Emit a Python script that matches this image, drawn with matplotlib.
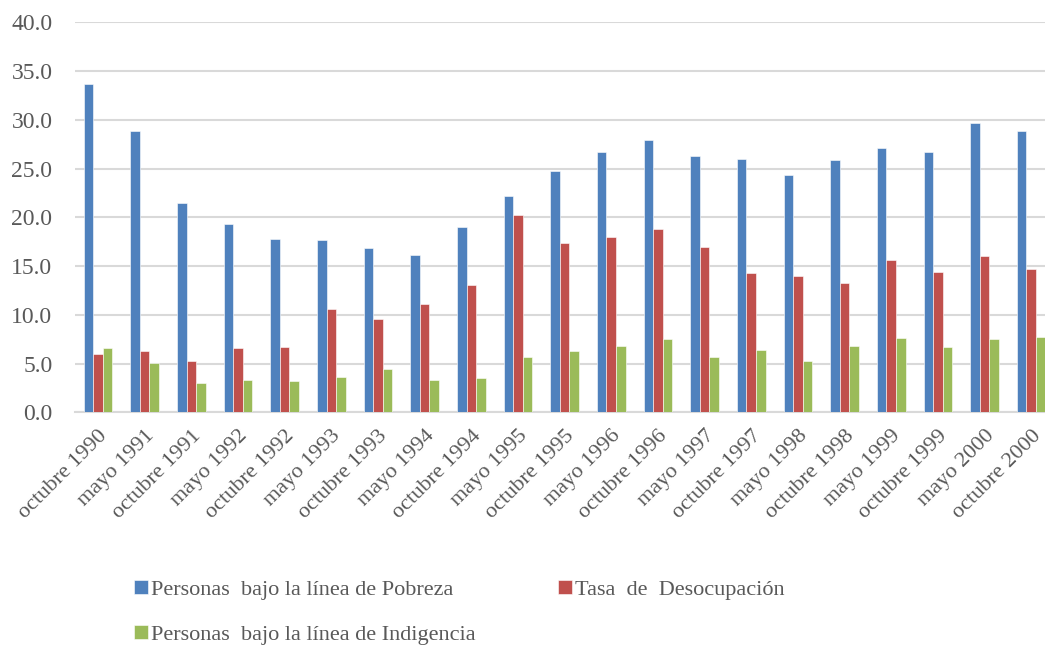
import matplotlib.pyplot as plt
import numpy as np

periodos = ['octubre 1990', 'mayo 1991', 'octubre 1991', 'mayo 1992', 'octubre 1992',
            'mayo 1993', 'octubre 1993', 'mayo 1994', 'octubre 1994', 'mayo 1995',
            'octubre 1995', 'mayo 1996', 'octubre 1996', 'mayo 1997', 'octubre 1997',
            'mayo 1998', 'octubre 1998', 'mayo 1999', 'octubre 1999', 'mayo 2000',
            'octubre 2000']

pobreza = [33.7, 28.9, 21.5, 19.3, 17.8, 17.7, 16.8, 16.1, 19.0, 22.2, 24.8,
           26.7, 27.9, 26.3, 26.0, 24.3, 25.9, 27.1, 26.7, 29.7, 28.9]
desocupacion = [6.0, 6.3, 5.3, 6.6, 6.7, 10.6, 9.6, 11.1, 13.1, 20.2, 17.4,
                18.0, 18.8, 17.0, 14.3, 14.0, 13.3, 15.6, 14.4, 16.0, 14.7]
indigencia = [6.6, 5.1, 3.0, 3.3, 3.2, 3.6, 4.4, 3.3, 3.5, 5.7, 6.3,
              6.8, 7.5, 5.7, 6.4, 5.3, 6.8, 7.6, 6.7, 7.5, 7.7]

series = [
    ('Personas  bajo la línea de Pobreza', pobreza, '#4F81BD'),
    ('Tasa  de  Desocupación', desocupacion, '#C0504D'),
    ('Personas  bajo la línea de Indigencia', indigencia, '#9BBB59'),
]

plt.rcParams['font.family'] = ['Liberation Serif', 'DejaVu Serif']
gris = '#595959'

fig = plt.figure(figsize=(10.45, 6.45), dpi=100)
ax = fig.add_axes([0.0715, 0.3608, 0.9376, 0.6046])

x = np.arange(len(periodos))
w = 0.205
handles = []
for i, (nombre, valores, color) in enumerate(series):
    b = ax.bar(x + (i - 1) * w, valores, w, color=color, edgecolor='white',
               linewidth=0.4, label=nombre, zorder=3)
    handles.append(b)

ax.set_xlim(-0.5, len(periodos) - 0.5)
ax.set_ylim(0, 40)
ax.set_yticks(np.arange(0, 40.1, 5))
ax.set_yticklabels([f'{v:.1f}' for v in np.arange(0, 40.1, 5)])
ax.yaxis.grid(True, color='#D9D9D9', linewidth=1.5, zorder=0)
ax.set_axisbelow(True)
for s in ['top', 'right', 'left']:
    ax.spines[s].set_visible(False)
ax.spines['bottom'].set_color('#D9D9D9')
ax.spines['bottom'].set_linewidth(1.5)

ax.tick_params(axis='y', length=0, pad=16, labelsize=17, labelcolor=gris)
ax.tick_params(axis='x', length=0, pad=10, labelsize=16, labelcolor=gris)
ax.set_xticks(x)
ax.set_xticklabels(periodos, rotation=45, ha='right', rotation_mode='anchor')

# Excel-style legend: rows filled left to right
leg = fig.legend([handles[0], handles[2], handles[1]],
                 [series[0][0], series[2][0], series[1][0]],
                 ncol=2, loc='upper left', bbox_to_anchor=(0.128, 0.101),
                 frameon=False, fontsize=16, labelcolor=gris,
                 handlelength=0.63, handleheight=0.6, handletextpad=0.15,
                 columnspacing=3.7, labelspacing=1.12, borderpad=0,
                 borderaxespad=0)

fig.savefig('out.png', dpi=100)
